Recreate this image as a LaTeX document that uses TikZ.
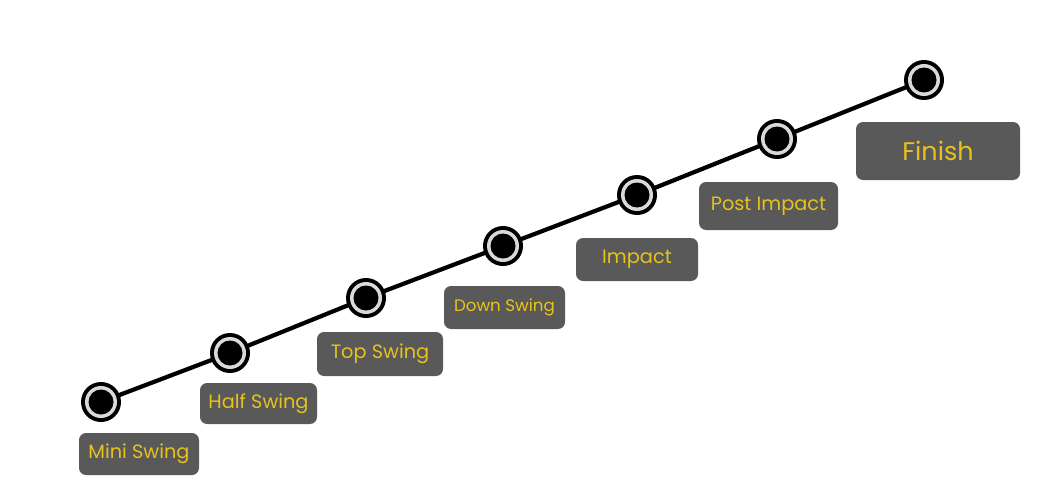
\documentclass[tikz,border=0pt]{standalone}
\usepackage{fontspec}
\setmainfont{Poppins}
\definecolor{boxgray}{HTML}{595959}
\definecolor{labelgold}{HTML}{E8C21A}
\definecolor{ringgray}{HTML}{D9D9D9}
\tikzset{
  stage/.style={circle, fill=black, draw=ringgray, line width=3pt, minimum size=26pt, inner sep=0pt, double=black, double distance=0pt},
  tag/.style={fill=boxgray, text=labelgold, rounded corners=4pt, inner sep=0pt, font=\fontsize{11pt}{13pt}\selectfont},
}
\begin{document}
\begin{tikzpicture}[x=0.02cm,y=-0.02cm]
  \useasboundingbox (0,0) rectangle (1050,500);
  % swing path
  \draw[line width=2.4pt] (101,402) -- (230,353) -- (366,298) -- (503,246) -- (637,195) -- (777,139) -- (924,80);
  % stage markers
  \foreach \x/\y/\n in {101/402/a, 230/353/b, 366/298/c, 503/246/d, 637/195/e, 777/139/f, 924/80/g}{
    \fill (\x,\y) circle (20*0.02cm);
    \fill[ringgray] (\x,\y) circle (16*0.02cm);
    \fill (\x,\y) circle (12.5*0.02cm);
    \coordinate (\n) at (\x,\y);
  }
  % labels
  \node[tag, minimum width=120*0.02cm, minimum height=42*0.02cm] (mini) at (139,454) {Mini Swing};
  \node[tag, minimum width=117*0.02cm, minimum height=41*0.02cm] (half) at (258.5,403.5) {Half Swing};
  \node[tag, minimum width=126*0.02cm, minimum height=44*0.02cm] (top) at (380,354) {Top Swing};
  \node[tag, minimum width=121*0.02cm, minimum height=43*0.02cm, font=\fontsize{9.5pt}{11pt}\selectfont] (down) at (504.5,307.5) {Down Swing};
  \node[tag, minimum width=122*0.02cm, minimum height=43*0.02cm] (impact) at (637,259.5) {Impact};
  \node[tag, minimum width=139*0.02cm, minimum height=48*0.02cm] (post) at (768.5,206) {Post Impact};
  \node[tag, minimum width=164*0.02cm, minimum height=58*0.02cm, font=\fontsize{14.5pt}{16pt}\selectfont] (finish) at (938,151) {Finish};
\end{tikzpicture}
\end{document}
